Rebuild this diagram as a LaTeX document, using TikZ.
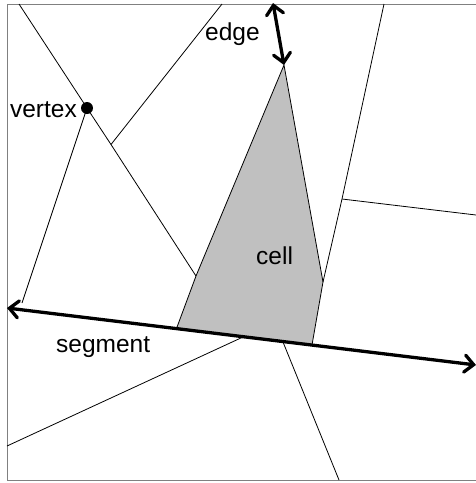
\documentclass[tikz,border=0pt]{standalone}
\usepackage{fontspec}
\setmainfont{Liberation Sans}
\usetikzlibrary{arrows.meta}
\definecolor{framegray}{RGB}{128,128,128}
\definecolor{cellgray}{RGB}{192,192,192}
\begin{document}
\begin{tikzpicture}[x=1pt,y=-1pt,
  thinl/.style={line width=0.8pt,black},
  framel/.style={line width=1pt,framegray},
  thickarrow/.style={line width=3.3pt,line cap=round,
     arrows={Straight Barb[length=9pt,width=17pt,line cap=round]-Straight Barb[length=9pt,width=17pt,line cap=round]}},
  lbl/.style={inner sep=0pt,font=\fontsize{24.5}{28}\selectfont}]
\useasboundingbox (0,0) rectangle (476,483);
% coordinates
\coordinate (V) at (87,108);
\coordinate (T1) at (19,4);
\coordinate (T2) at (222,4);
\coordinate (T3) at (384,4);
\coordinate (P1) at (111,144.5);
\coordinate (Q) at (196,276);
\coordinate (C1) at (284,65);
\coordinate (C2) at (176.5,328.5);
\coordinate (C3) at (312,345);
\coordinate (C4) at (323,282);
\coordinate (R1) at (342,199);
\coordinate (R2) at (476,215);
\coordinate (L1) at (22,303);
\coordinate (S1) at (7,308);
\coordinate (S2) at (476,365);
\coordinate (B1) at (7,446);
\coordinate (B2) at (243,337);
\coordinate (B3) at (283,342);
\coordinate (B4) at (339,480);
\coordinate (E1) at (273,3);
% frame
\draw[framel] (476,4) -- (7.5,4) -- (7.5,480) -- (476,480);
% cell
\draw[thinl,fill=cellgray] (C1) -- (Q) -- (C2) -- (C3) -- (C4) -- cycle;
% voronoi edges
\draw[thinl] (T1) -- (V) -- (P1) -- (Q);
\draw[thinl] (T2) -- (P1);
\draw[thinl] (V) -- (L1);
\draw[thinl] (T3) -- (R1) -- (C4);
\draw[thinl] (R1) -- (R2);
\draw[thinl] (B1) -- (B2);
\draw[thinl] (B3) -- (B4);
% segment and edge arrow
\draw[thickarrow] (S1) -- (S2);
\draw[thickarrow] (E1) -- (C1);
% vertex dot
\fill (V) circle (6pt);
% labels
\node[lbl,anchor=base east] (lvertex) at (77,117) {vertex};
\node[lbl,anchor=base west] (ledge) at (205,40) {edge};
\node[lbl,anchor=base west] (lcell) at (256,264) {cell};
\node[lbl,anchor=base west] (lsegment) at (56,352) {segment};
\end{tikzpicture}
\end{document}
